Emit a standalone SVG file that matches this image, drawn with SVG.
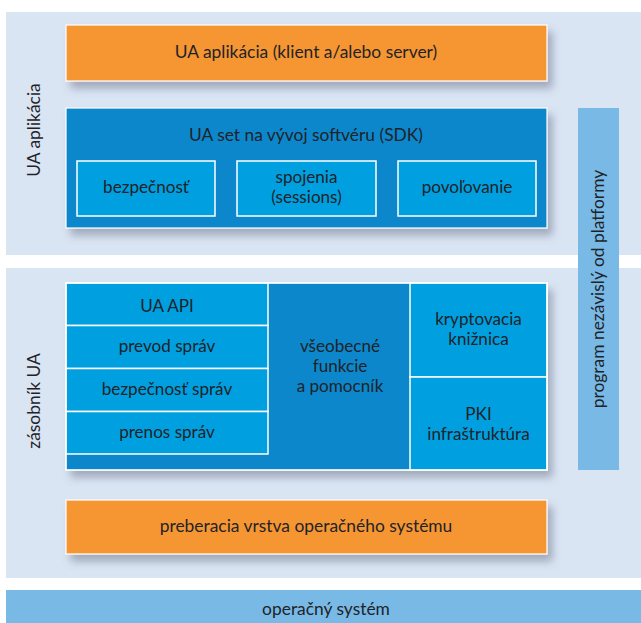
<svg xmlns="http://www.w3.org/2000/svg" width="641" height="623" viewBox="0 0 641 623">
  <defs>
    <filter id="shadow" x="-10%" y="-10%" width="130%" height="140%">
      <feDropShadow dx="5" dy="7" stdDeviation="4" flood-color="#5a6478" flood-opacity="0.45"/>
    </filter>
  </defs>
  <style>
    .panel { fill: #dae5f4; }
    .orange { fill: #f59633; stroke: #ffffff; stroke-width: 1.2; }
    .dark { fill: #0a87cb; stroke: #ffffff; stroke-width: 1.2; }
    .cell { fill: #00a0e0; stroke: #ffffff; stroke-width: 1.5; }
    .bar { fill: #79b9e6; }
    text { font-family: "Lato", "Liberation Sans", sans-serif; fill: #1f2328; text-anchor: middle; }
    .t16 { font-size: 17.4px; }
    .t15 { font-size: 17.1px; }
  </style>

  <rect width="641" height="623" fill="#ffffff"/>

  <!-- application layer background -->
  <g id="panel-app">
    <rect class="panel" x="6" y="12" width="635" height="243"/>
    <text class="t16" transform="translate(40 130) rotate(-90)">UA aplikácia</text>
  </g>

  <!-- stack layer background -->
  <g id="panel-stack">
    <rect class="panel" x="6" y="268" width="635" height="310"/>
    <text class="t16" transform="translate(40 401) rotate(-90)">zásobník UA</text>
  </g>

  <!-- operating system -->
  <g id="os">
    <rect class="bar" x="6" y="590" width="635" height="33"/>
    <text class="t16" x="326" y="615">operačný systém</text>
  </g>

  <!-- platform independent program bar -->
  <g id="platform">
    <rect class="bar" x="578" y="108" width="41" height="362"/>
    <text class="t16" transform="translate(604 289) rotate(-90)">program nezávislý od platformy</text>
  </g>

  <!-- UA application -->
  <g id="ua-app">
    <rect class="orange" x="66" y="25" width="481" height="56" filter="url(#shadow)"/>
    <text class="t16" x="306" y="58">UA aplikácia (klient a/alebo server)</text>
  </g>

  <!-- SDK -->
  <g id="sdk">
    <rect class="dark" x="66" y="108" width="481" height="120" filter="url(#shadow)"/>
    <text class="t16" x="306" y="141">UA set na vývoj softvéru (SDK)</text>
  </g>
  <g id="sdk-security">
    <rect class="cell" x="77" y="161" width="138" height="55"/>
    <text class="t15" x="146" y="193">bezpečnosť</text>
  </g>
  <g id="sdk-sessions">
    <rect class="cell" x="237" y="161" width="139" height="55"/>
    <text class="t15" x="306.5" y="183">spojenia</text>
    <text class="t15" x="306.5" y="203">(sessions)</text>
  </g>
  <g id="sdk-authorization">
    <rect class="cell" x="398" y="161" width="138" height="55"/>
    <text class="t15" x="467" y="193">povoľovanie</text>
  </g>

  <!-- UA stack -->
  <g id="stack">
    <rect class="dark" x="66" y="283" width="481" height="187" filter="url(#shadow)"/>
  </g>
  <g id="ua-api">
    <rect class="cell" x="66" y="283" width="202" height="42.5"/>
    <text class="t15" x="167" y="312">UA API</text>
  </g>
  <g id="msg-encoding">
    <rect class="cell" x="66" y="325.5" width="202" height="43"/>
    <text class="t15" x="167" y="352">prevod správ</text>
  </g>
  <g id="msg-security">
    <rect class="cell" x="66" y="368.5" width="202" height="43"/>
    <text class="t15" x="167" y="395">bezpečnosť správ</text>
  </g>
  <g id="msg-transport">
    <rect class="cell" x="66" y="411.5" width="202" height="42.5"/>
    <text class="t15" x="167" y="438">prenos správ</text>
  </g>
  <g id="general-functions">
    <text class="t15" x="340" y="352">všeobecné</text>
    <text class="t15" x="340" y="372">funkcie</text>
    <text class="t15" x="340" y="392">a pomocník</text>
  </g>
  <g id="crypto-library">
    <rect class="cell" x="410" y="283" width="137" height="94"/>
    <text class="t15" x="478.5" y="325">kryptovacia</text>
    <text class="t15" x="478.5" y="345">knižnica</text>
  </g>
  <g id="pki">
    <rect class="cell" x="410" y="377" width="137" height="93"/>
    <text class="t15" x="478.5" y="420">PKI</text>
    <text class="t15" x="478.5" y="440">infraštruktúra</text>
  </g>
  <g id="stack-frame">
    <rect x="66" y="283" width="481" height="187" fill="none" stroke="#ffffff" stroke-width="1.2"/>
  </g>

  <!-- OS abstraction layer -->
  <g id="os-abstraction">
    <rect class="orange" x="66" y="500" width="481" height="54" filter="url(#shadow)"/>
    <text class="t16" x="306" y="532">preberacia vrstva operačného systému</text>
  </g>
</svg>
